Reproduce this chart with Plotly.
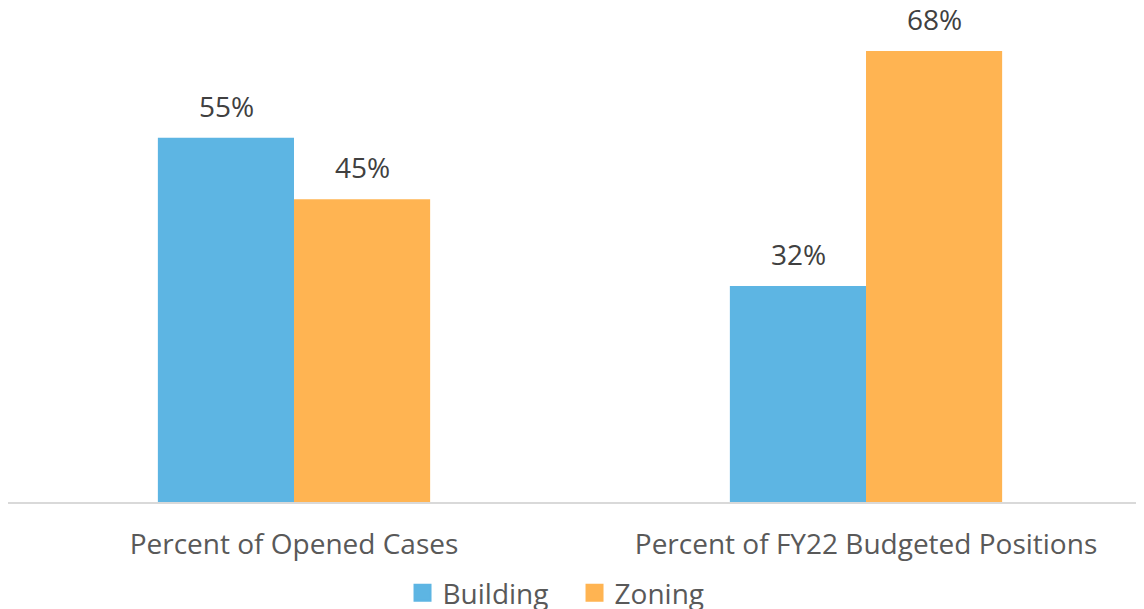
import plotly.graph_objects as go

categories = ["Percent of Opened Cases", "Percent of FY22 Budgeted Positions"]
series_names = ["Building", "Zoning"]
building = [54.6, 32.4]
zoning = [45.4, 67.6]
building_labels = ["55%", "32%"]
zoning_labels = ["45%", "68%"]

colors = ["#5DB5E3", "#FFB452"]
font_family = "Open Sans, Noto Sans, sans-serif"

fig = go.Figure()
fig.add_trace(go.Bar(name=series_names[0], x=categories, y=building, showlegend=False,
                     marker=dict(color=colors[0], line=dict(width=0))))
fig.add_trace(go.Bar(name=series_names[1], x=categories, y=zoning, showlegend=False,
                     marker=dict(color=colors[1], line=dict(width=0))))
# legend entries with larger square swatches
for name, col in zip(series_names, colors):
    fig.add_trace(go.Scatter(name=name, x=[None], y=[None], mode="markers",
                             marker=dict(symbol="square", size=16, color=col,
                                         line=dict(color=col, width=2)),
                             showlegend=True))

annotations = []
for i, cat in enumerate(categories):
    for vals, labs, shift in ((building, building_labels, -68), (zoning, zoning_labels, 68)):
        annotations.append(dict(x=i, y=vals[i], xref="x", yref="y", text=labs[i],
                                showarrow=False, xshift=shift, yshift=12,
                                yanchor="bottom", xanchor="center", borderpad=0,
                                font=dict(family=font_family, size=28, color="#404040")))

# page body adds an 8px offset, so the figure is sized to fit the remaining window
fig.update_layout(
    width=1136, height=601,
    margin=dict(l=0, r=0, t=0, b=107),
    paper_bgcolor="white", plot_bgcolor="white",
    barmode="group", bargap=0.524, bargroupgap=0,
    font=dict(family=font_family, size=28, color="#595959"),
    showlegend=True,
    legend=dict(orientation="h", x=0.4987, xanchor="center",
                yref="container", y=1 - 585 / 601, yanchor="middle",
                font=dict(family=font_family, size=28, color="#595959"),
                itemwidth=30, entrywidth=127, entrywidthmode="pixels",
                traceorder="normal"),
    annotations=annotations,
    xaxis=dict(type="category", range=[-0.5, 1.486], showgrid=False,
               showline=True, linecolor="#D9D9D9", linewidth=2,
               ticks="", ticklabelstandoff=16,
               tickfont=dict(family=font_family, size=28, color="#595959")),
    yaxis=dict(range=[0, 74.06], visible=False, showgrid=False, zeroline=False),
)

fig.write_html("out.html")
